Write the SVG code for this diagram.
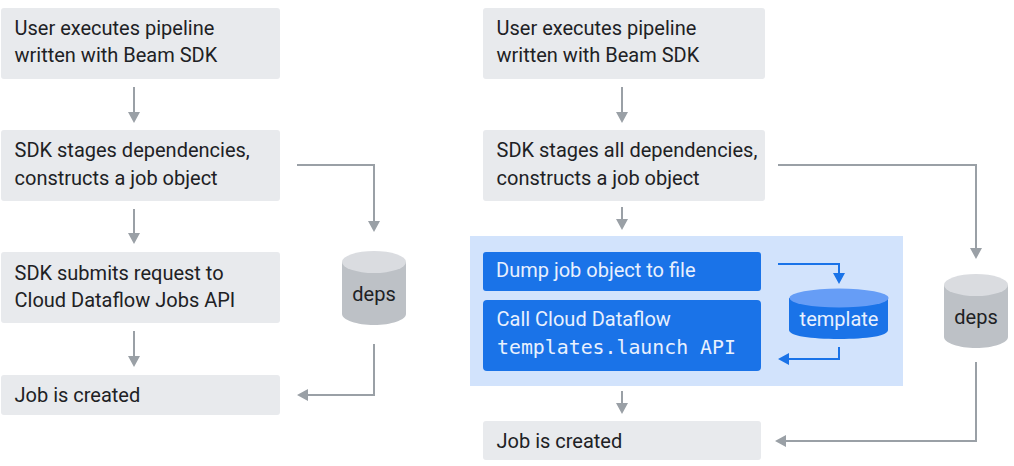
<svg xmlns="http://www.w3.org/2000/svg" width="1014" height="466" viewBox="0 0 1014 466">
<style>
text{font-family:Roboto,"Liberation Sans",sans-serif;font-size:20px;fill:#202124}
.box{fill:#e8eaed}
.blue{fill:#1a73e8}
.w{fill:#e8f0fe}
.mono{font-family:"DejaVu Sans Mono","Liberation Mono",monospace;font-size:19.85px}
.g{fill:none;stroke:#9aa0a6;stroke-width:2}
.b{fill:none;stroke:#1a73e8;stroke-width:2}
.gh{fill:#9aa0a6}
.bh{fill:#1a73e8}
.cyl{fill:#bdc1c6}
.top{fill:#dadce0}
</style>
<rect width="1014" height="466" fill="#fff"/>
<rect x="470" y="236" width="433" height="150" fill="#d2e3fc"/>
<g id="connectors">
<path class="g" d="M134 87V114M134 209V236M134 331V358M297 165H374V224M374 344V395H308M622 87V114M622 207V222M622 391V406M778 165H976V250M976 362V441H785"/>
<path class="gh" d="M128 112H140L134 123ZM128 233H140L134 244ZM128 356H140L134 367ZM368 221H380L374 232ZM308 389V401L297 395ZM616 112H628L622 123ZM616 219H628L622 230ZM616 403H628L622 414ZM970 248H982L976 259ZM786 435V447L775 441Z"/>
<path class="b" d="M778 264H839V275M839 347V359H788"/>
<path class="bh" d="M833 273H845L839 284ZM789 353V365L778 359Z"/>
</g>
<g id="left-1"><rect class="box" x="1" y="8" width="279" height="71" rx="3"/><text x="14.500" y="35">User executes pipeline</text><text x="14.500" y="62">written with Beam SDK</text></g>
<g id="left-2"><rect class="box" x="1" y="130" width="279" height="71" rx="3"/><text x="14.500" y="157">SDK stages dependencies,</text><text x="14.500" y="185">constructs a job object</text></g>
<g id="left-3"><rect class="box" x="1" y="252" width="279" height="71" rx="3"/><text x="14.500" y="280">SDK submits request to</text><text x="14.500" y="307">Cloud Dataflow Jobs API</text></g>
<g id="left-4"><rect class="box" x="1" y="375" width="279" height="40" rx="3"/><text x="14.500" y="402">Job is created</text></g>
<g id="left-deps"><path class="cyl" d="M342 262V314C342 320 357 325 374 325S406 320 406 314V262Z"/><ellipse class="top" cx="374" cy="262" rx="32" ry="11"/><text x="374" y="301" text-anchor="middle">deps</text></g>
<g id="right-1"><rect class="box" x="483" y="8" width="282" height="71" rx="3"/><text x="496.500" y="35">User executes pipeline</text><text x="496.500" y="62">written with Beam SDK</text></g>
<g id="right-2"><rect class="box" x="483" y="130" width="282" height="71" rx="3"/><text x="496.500" y="157">SDK stages all dependencies,</text><text x="496.500" y="185">constructs a job object</text></g>
<g id="right-dump"><rect class="blue" x="483" y="252" width="278" height="39" rx="3"/><text class="w" x="496" y="277">Dump job object to file</text></g>
<g id="right-call"><rect class="blue" x="483" y="300" width="278" height="71" rx="4"/><text class="w" x="496.500" y="326">Call Cloud Dataflow</text><text class="w mono" x="497" y="354">templates.launch API</text></g>
<g id="template"><path class="blue" d="M789 298V330C789 336 811 339 839 339S888 336 888 330V298Z"/><ellipse cx="839" cy="298" rx="49.500" ry="9.500" fill="#669df6"/><text class="w" x="839" y="326" text-anchor="middle">template</text></g>
<g id="right-deps"><path class="cyl" d="M944 285V337C944 343 959 348 976 348S1008 343 1008 337V285Z"/><ellipse class="top" cx="976" cy="285" rx="32" ry="11"/><text x="976" y="324" text-anchor="middle">deps</text></g>
<g id="right-4"><rect class="box" x="483" y="421" width="278" height="39" rx="3"/><text x="496.500" y="448">Job is created</text></g>
</svg>
